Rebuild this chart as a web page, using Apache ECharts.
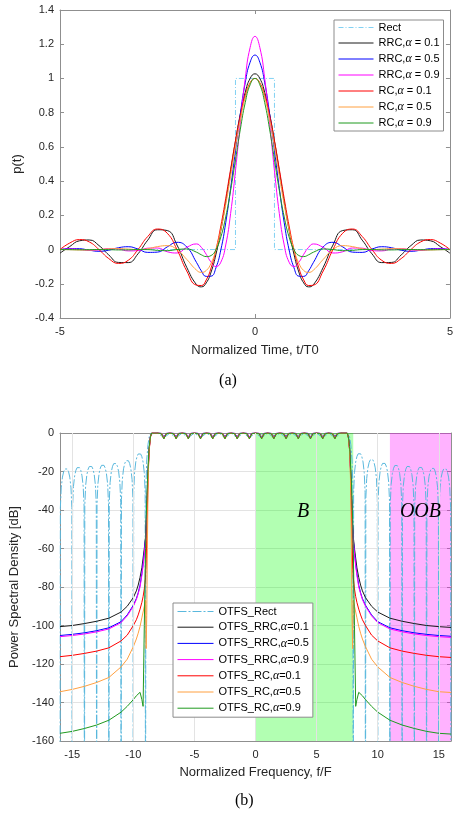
<!DOCTYPE html>
<html><head><meta charset="utf-8">
<script src="https://cdn.jsdelivr.net/npm/echarts@6/dist/echarts.min.js"></script>
<style>html,body{margin:0;padding:0;background:#fff}#c{width:456px;height:814px}</style>
</head><body><div id="c"></div>
<script>
// ---------- (a) pulse shapes ----------
const tAxis = [-5,-4.75,-4.5,-4.25,-4,-3.75,-3.5,-3.25,-3,-2.75,-2.5,-2.25,-2,-1.75,-1.5,-1.375,-1.25,-1.125,-1,-0.875,-0.75,-0.625,-0.5,-0.375,-0.25,-0.125,0,0.125,0.25,0.375,0.5,0.625,0.75,0.875,1,1.125,1.25,1.375,1.5,1.75,2,2.25,2.5,2.75,3,3.25,3.5,3.75,4,4.25,4.5,4.75,5];
const rectT = [-5,-0.5,-0.5,0.5,0.5,5];
const rectP = [0,0,1,1,0,0];
const rrc01 = [-0.0212,0.0176,0.0512,0.0559,0.0233,-0.0314,-0.0752,-0.0762,-0.0250,0.0550,0.1157,0.1110,0.0263,-0.1040,-0.2051,-0.2181,-0.1949,-0.1312,-0.0271,0.1125,0.2784,0.4574,0.6342,0.7930,0.9188,0.9995,1.027,0.9995,0.9188,0.7930,0.6342,0.4574,0.2784,0.1125,-0.0271,-0.1312,-0.1949,-0.2181,-0.2051,-0.1040,0.0263,0.1110,0.1157,0.0550,-0.0250,-0.0762,-0.0752,-0.0314,0.0233,0.0559,0.0512,0.0176,-0.0212];
const rrc05 = [-0.0006,0.0059,0.0050,-0.0038,-0.0101,-0.0038,0.0107,0.0165,0.0030,-0.0165,-0.0150,0.0155,0.0424,0.0155,-0.0750,-0.1245,-0.1568,-0.1554,-0.1061,-0.0015,0.1568,0.3572,0.5786,0.7940,0.9745,1.0945,1.1366,1.0945,0.9745,0.7940,0.5786,0.3572,0.1568,-0.0015,-0.1061,-0.1554,-0.1568,-0.1245,-0.0750,0.0155,0.0424,0.0155,-0.0150,-0.0165,0.0030,0.0165,0.0107,-0.0038,-0.0101,-0.0038,0.0050,0.0059,-0.0006];
const rrc09 = [-0.0002,0.0037,0.0004,-0.0051,-0.0021,0.0054,0.0028,-0.0078,-0.0066,0.0081,0.0090,-0.0129,-0.0201,0.0130,0.0328,0.0128,-0.0278,-0.0739,-0.0994,-0.0738,0.0268,0.2101,0.4608,0.7410,0.9989,1.1805,1.2459,1.1805,0.9989,0.7410,0.4608,0.2101,0.0268,-0.0738,-0.0994,-0.0739,-0.0278,0.0128,0.0328,0.0130,-0.0201,-0.0129,0.0090,0.0081,-0.0066,-0.0078,0.0028,0.0054,-0.0021,-0.0051,0.0004,0.0037,-0.0002];
const rc01 = [0,0.0381,0.0582,0.0446,0,-0.0525,-0.0810,-0.0627,0,0.0762,0.1200,0.0954,0,-0.1250,-0.2078,-0.2101,-0.1774,-0.1070,0,0.1382,0.2985,0.4688,0.6351,0.7832,0.8998,0.9744,1,0.9744,0.8998,0.7832,0.6351,0.4688,0.2985,0.1382,0,-0.1070,-0.1774,-0.2101,-0.2078,-0.1250,0,0.0954,0.1200,0.0762,0,-0.0627,-0.0810,-0.0525,0,0.0446,0.0582,0.0381,0];
const rc05 = [0,-0.0008,-0.0026,-0.0029,0,0.0043,0.0057,0.0028,0,0.0048,0.0172,0.0228,0,-0.0576,-0.1200,-0.1334,-0.1225,-0.0795,0,0.1159,0.2625,0.4290,0.6002,0.7588,0.8872,0.9709,1,0.9709,0.8872,0.7588,0.6002,0.4290,0.2625,0.1159,0,-0.0795,-0.1225,-0.1334,-0.1200,-0.0576,0,0.0228,0.0172,0.0048,0,0.0028,0.0057,0.0043,0,-0.0029,-0.0026,-0.0008,0];
const rc09 = [0,-0.0004,-0.0011,-0.0008,0,-0.0005,-0.0021,-0.0020,0,-0.0003,-0.0047,-0.0065,0,0.0034,-0.0153,-0.0306,-0.0410,-0.0349,0,0.0738,0.1907,0.3456,0.5241,0.7039,0.8585,0.9630,1,0.9630,0.8585,0.7039,0.5241,0.3456,0.1907,0.0738,0,-0.0349,-0.0410,-0.0306,-0.0153,0.0034,0,-0.0065,-0.0047,-0.0003,0,-0.0020,-0.0021,-0.0005,0,-0.0008,-0.0011,-0.0004,0];
const namesA = ['Rect','RRC,α = 0.1','RRC,α = 0.5','RRC,α = 0.9','RC,α = 0.1','RC,α = 0.5','RC,α = 0.9'];

// ---------- (b) power spectral density ----------
const inBandFreq = [-8,-7.7,-7.5,-7.3,-7,-6.7,-6.5,-6.3,-6,-5.7,-5.5,-5.3,-5,-4.7,-4.5,-4.3,-4,-3.7,-3.5,-3.3,-3,-2.7,-2.5,-2.3,-2,-1.7,-1.5,-1.3,-1,-0.7,-0.5,-0.3,0,0.3,0.5,0.7,1,1.3,1.5,1.7,2,2.3,2.5,2.7,3,3.3,3.5,3.7,4,4.3,4.5,4.7,5,5.3,5.5,5.7,6,6.3,6.5,6.7,7];
const inBandRRC = [0,-0.2,-2.2,-0.2,0,-0.2,-2.2,-0.2,0,-0.2,-2.2,-0.2,0,-0.2,-2.2,-0.2,0,-0.2,-2.2,-0.2,0,-0.2,-2.2,-0.2,0,-0.2,-2.2,-0.2,0,-0.2,-2.2,-0.2,0,-0.2,-2.2,-0.2,0,-0.2,-2.2,-0.2,0,-0.2,-2.2,-0.2,0,-0.2,-2.2,-0.2,0,-0.2,-2.2,-0.2,0,-0.2,-2.2,-0.2,0,-0.2,-2.2,-0.2,0];
const inBandRC = [0,-0.4,-3.0,-0.4,0,-0.4,-3.0,-0.4,0,-0.4,-3.0,-0.4,0,-0.4,-3.0,-0.4,0,-0.4,-3.0,-0.4,0,-0.4,-3.0,-0.4,0,-0.4,-3.0,-0.4,0,-0.4,-3.0,-0.4,0,-0.4,-3.0,-0.4,0,-0.4,-3.0,-0.4,0,-0.4,-3.0,-0.4,0,-0.4,-3.0,-0.4,0,-0.4,-3.0,-0.4,0,-0.4,-3.0,-0.4,0,-0.4,-3.0,-0.4,0];
const rectFreq = [
-16,-15.97,-15.9,-15.8,-15.7,-15.6,-15.5,-15.4,-15.3,-15.2,-15.1,-15.03,
-15,-14.97,-14.9,-14.8,-14.7,-14.6,-14.5,-14.4,-14.3,-14.2,-14.1,-14.03,
-14,-13.97,-13.9,-13.8,-13.7,-13.6,-13.5,-13.4,-13.3,-13.2,-13.1,-13.03,
-13,-12.97,-12.9,-12.8,-12.7,-12.6,-12.5,-12.4,-12.3,-12.2,-12.1,-12.03,
-12,-11.97,-11.9,-11.8,-11.7,-11.6,-11.5,-11.4,-11.3,-11.2,-11.1,-11.03,
-11,-10.97,-10.9,-10.8,-10.7,-10.6,-10.5,-10.4,-10.3,-10.2,-10.1,-10.03,
-10,-9.97,-9.9,-9.8,-9.7,-9.6,-9.5,-9.4,-9.3,-9.2,-9.1,-9.03,
-9,-8.97,-8.9,-8.8,-8.7,-8.6,-8.5,
-8,-7.5,-7,-6.5,-6,-5.5,-5,-4.5,-4,-3.5,-3,-2.5,-2,-1.5,-1,-0.5,0,0.5,1,1.5,2,2.5,3,3.5,4,4.5,5,5.5,6,6.5,7,
7.5,7.6,7.7,7.8,7.9,7.97,
8,8.03,8.1,8.2,8.3,8.4,8.5,8.6,8.7,8.8,8.9,8.97,
9,9.03,9.1,9.2,9.3,9.4,9.5,9.6,9.7,9.8,9.9,9.97,
10,10.03,10.1,10.2,10.3,10.4,10.5,10.6,10.7,10.8,10.9,10.97,
11,11.03,11.1,11.2,11.3,11.4,11.5,11.6,11.7,11.8,11.9,11.97,
12,12.03,12.1,12.2,12.3,12.4,12.5,12.6,12.7,12.8,12.9,12.97,
13,13.03,13.1,13.2,13.3,13.4,13.5,13.6,13.7,13.8,13.9,13.97,
14,14.03,14.1,14.2,14.3,14.4,14.5,14.6,14.7,14.8,14.9,14.97,
15,15.03,15.1,15.2,15.3,15.4,15.5,15.6,15.7,15.8,15.9,15.97,
16];
const rectPSD = [
-250,-38.8,-28.5,-22.9,-20.1,-18.7,-18.3,-18.7,-20.1,-22.9,-28.5,-38.8,
-250,-38.1,-27.8,-22.2,-19.4,-18.0,-17.6,-18.0,-19.4,-22.2,-27.8,-38.1,
-250,-37.5,-27.2,-21.6,-18.8,-17.4,-17.0,-17.4,-18.8,-21.6,-27.2,-37.5,
-250,-36.9,-26.6,-21.0,-18.2,-16.8,-16.4,-16.8,-18.2,-21.0,-26.6,-36.9,
-250,-36.0,-25.7,-20.1,-17.3,-15.9,-15.5,-15.9,-17.3,-20.1,-25.7,-36.0,
-250,-34.5,-24.2,-18.6,-15.8,-14.4,-14.0,-14.4,-15.8,-18.6,-24.2,-34.5,
-250,-31.0,-20.7,-15.1,-12.3,-10.9,-10.5,-10.9,-12.3,-15.1,-20.7,-31.0,
-250,-28,-14,-6,-2,-0.5,0,
0,-2.5,0,-2.5,0,-2.5,0,-2.5,0,-2.5,0,-2.5,0,-2.5,0,-2.5,0,-2.5,0,-2.5,0,-2.5,0,-2.5,0,-2.5,0,-2.5,0,-2.5,0,
0,-0.5,-2,-6,-14,-28,
-250,-30.9,-20.6,-15.0,-12.2,-10.8,-10.4,-10.8,-12.2,-15.0,-20.6,-30.9,
-250,-34.0,-23.7,-18.1,-15.3,-13.9,-13.5,-13.9,-15.3,-18.1,-23.7,-34.0,
-250,-35.9,-25.6,-20.0,-17.2,-15.8,-15.4,-15.8,-17.2,-20.0,-25.6,-35.9,
-250,-37.0,-26.7,-21.1,-18.3,-16.9,-16.5,-16.9,-18.3,-21.1,-26.7,-37.0,
-250,-37.5,-27.2,-21.6,-18.8,-17.4,-17.0,-17.4,-18.8,-21.6,-27.2,-37.5,
-250,-38.0,-27.7,-22.1,-19.3,-17.9,-17.5,-17.9,-19.3,-22.1,-27.7,-38.0,
-250,-38.5,-28.2,-22.6,-19.8,-18.4,-18.0,-18.4,-19.8,-22.6,-28.2,-38.5,
-250,-38.8,-28.5,-22.9,-20.1,-18.7,-18.3,-18.7,-20.1,-22.9,-28.5,-38.8,
-250];
const leftFreq = [-16,-15,-14,-13,-12,-11,-10.5,-10,-9.75,-9.6,-9.45,-9.3,-9.2,-9.1,-9,-8.95,-8.9,-8.85,-8.8,-8.75,-8.7,-8.6,-8.5];
const rightFreq = [7.5,7.6,7.7,7.75,7.8,7.85,7.9,7.95,8,8.1,8.2,8.3,8.45,8.6,8.75,9,9.5,10,11,12,13,14,15,16];
const leftRRC01 = [-100.6,-100,-99,-97.8,-96.2,-93,-90,-85.5,-82,-79,-75,-70,-65,-60,-54,-48,-40,-31,-22,-14,-8,-2,0];
const rightRRC01 = [0,-2,-8,-14,-22,-31,-40,-48,-54,-60,-65,-70,-75,-79,-82,-85.5,-90,-93,-96.2,-97.8,-99,-100,-100.6,-101];
const leftRRC05 = [-105.2,-104.6,-103.8,-102.7,-101.2,-98,-94.5,-89.5,-86,-83,-79,-73,-68,-62,-55,-49,-41,-31,-22,-14.5,-8,-2,0];
const rightRRC05 = [0,-2,-8,-14.5,-22,-31,-41,-49,-55,-62,-68,-73,-79,-83,-86,-89.5,-94.5,-98,-101.2,-102.7,-103.8,-104.6,-105.2,-105.6];
const leftRRC09 = [-105.8,-105.2,-104.4,-103.3,-101.8,-98.5,-95,-90,-86.5,-83.5,-80,-74,-69,-63,-56,-50,-42,-32,-23,-15,-8.5,-2,0];
const rightRRC09 = [0,-2,-8.5,-15,-23,-32,-42,-50,-56,-63,-69,-74,-80,-83.5,-86.5,-90,-95,-98.5,-101.8,-103.3,-104.4,-105.2,-105.8,-106.2];
const leftRC01 = [-116.2,-115.5,-114.5,-113.3,-111.6,-108,-105,-100,-97,-94.5,-91.5,-88,-85,-81,-75,-68,-55,-40,-27,-16,-9,-2.2,0];
const rightRC01 = [0,-2.2,-9,-16,-27,-40,-55,-68,-75,-81,-85,-88,-91.5,-94.5,-97,-100,-105,-108,-111.6,-113.3,-114.5,-115.5,-116.2,-116.6];
const leftRC05 = [-134.4,-133.2,-131.6,-129.6,-127,-121.5,-117.5,-111,-107,-104,-100.5,-96,-93,-90,-87,-112,-95,-60,-32,-17,-9,-2.2,0];
const rightRC05 = [0,-2.2,-9,-17,-32,-60,-95,-112,-87,-90,-93,-96,-100.5,-104,-107,-111,-117.5,-121.5,-127,-129.6,-131.6,-133.2,-134.4,-134.8];
const leftRC09 = [-156,-155,-153.5,-151.7,-149.2,-145,-142,-138.5,-136.5,-135.5,-134.7,-138.5,-142,-100,-60,-45,-35,-26,-19,-12,-7,-2,0];
const rightRC09 = [0,-2,-7,-12,-19,-26,-35,-45,-60,-100,-142,-138.5,-134.7,-135.5,-136.5,-138.5,-142,-145,-149.2,-151.7,-153.5,-155,-156,-156.4];
const namesB = ['OTFS_Rect','OTFS_RRC,α=0.1','OTFS_RRC,α=0.5','OTFS_RRC,α=0.9','OTFS_RC,α=0.1','OTFS_RC,α=0.5','OTFS_RC,α=0.9'];
const bandB = [0, 8];
const bandOOB = [11, 16];
const xTicksB = [-15,-10,-5,0,5,10,15];
const labelB = {text:'B', f:3.9, db:-41};
const labelOOB = {text:'OOB', f:13.5, db:-41};

// ---------- styling ----------
const colors = ['#4DBEEE','#1a1a1a','#0000ff','#ff00ff','#ff0000','#ffa040','#1f9a1f'];
const FONT = 'Liberation Sans, Arial, sans-serif';
const AX = '#8f8f8f';
const TXT = '#262626';
const zip = (xs, ys) => xs.map((x,i)=>[x, ys[i]]);

function axisBase(extra){
  return Object.assign({
    type:'value',
    axisLine:{show:true, onZero:false, lineStyle:{color:AX, width:1}},
    axisTick:{show:true, inside:true, length:4, lineStyle:{color:AX}},
    axisLabel:{color:TXT, fontSize:11, fontFamily:FONT},
    splitLine:{show:false},
    nameTextStyle:{color:TXT, fontSize:13, fontFamily:FONT}
  }, extra);
}

const legendText = {
  color:'#000', fontSize:11, fontFamily:FONT,
  rich:{i:{fontStyle:'italic', fontFamily:'Liberation Serif, serif', fontSize:12, color:'#000'}}
};
const legendFmt = n => n.replace('α','{i|α}');

const seriesA = [
  {name:namesA[0], data:zip(rectT,rectP), smooth:false, lineStyle:{color:colors[0], width:1, type:[5,2,1,2], opacity:0.7}},
  {name:namesA[1], data:zip(tAxis,rrc01)},
  {name:namesA[2], data:zip(tAxis,rrc05)},
  {name:namesA[3], data:zip(tAxis,rrc09)},
  {name:namesA[4], data:zip(tAxis,rc01)},
  {name:namesA[5], data:zip(tAxis,rc05)},
  {name:namesA[6], data:zip(tAxis,rc09)}
].map((s,i)=>Object.assign({type:'line', xAxisIndex:0, yAxisIndex:0, symbol:'none', smooth:true,
  color:colors[i], lineStyle:{color:colors[i], width:1}, animation:false, z:2}, s));

const psdSets = [
  [leftRRC01, inBandRRC, rightRRC01],
  [leftRRC05, inBandRRC, rightRRC05],
  [leftRRC09, inBandRRC, rightRRC09],
  [leftRC01, inBandRC, rightRC01],
  [leftRC05, inBandRC, rightRC05],
  [leftRC09, inBandRC, rightRC09]
];
const psdFreq = leftFreq.concat(inBandFreq, rightFreq);
const seriesB = [
  {name:namesB[0], data:zip(rectFreq,rectPSD), lineStyle:{color:'#5ab8dd', width:1, type:[9,2,2,2]}}
].concat(psdSets.map((d,i)=>({name:namesB[i+1], data:zip(psdFreq, d[0].concat(d[1], d[2]))})))
 .map((s,i)=>Object.assign({type:'line', xAxisIndex:2, yAxisIndex:2, symbol:'none', smooth:false,
  color:colors[i], lineStyle:{color:colors[i], width:1}, animation:false, z:2, clip:true}, s));

const gridLinesSeries = {
  type:'line', xAxisIndex:2, yAxisIndex:2, data:[], silent:true, z:1, animation:false,
  markLine:{silent:true, symbol:['none','none'], label:{show:false}, animation:false,
    lineStyle:{color:'#e3e3e3', type:'solid', width:1},
    data:xTicksB.map(v=>({xAxis:v}))}
};
const textStyleBig = {show:true, position:'inside', fontFamily:'Liberation Serif, Times New Roman, serif',
  fontStyle:'italic', fontSize:20, color:'#000'};
const bandSeries = {
  type:'line', xAxisIndex:2, yAxisIndex:2, data:[], silent:true, z:5, animation:false,
  markArea:{silent:true, animation:false, data:[
    [{xAxis:bandB[0], itemStyle:{color:'rgba(0,255,0,0.3)'}}, {xAxis:bandB[1]}],
    [{xAxis:bandOOB[0], itemStyle:{color:'rgba(255,0,255,0.3)'}}, {xAxis:bandOOB[1]}]
  ]},
  markPoint:{silent:true, animation:false, symbol:'circle', symbolSize:1, itemStyle:{color:'rgba(0,0,0,0)'},
    data:[
      {coord:[labelB.f, labelB.db], label:Object.assign({formatter:labelB.text}, textStyleBig)},
      {coord:[labelOOB.f, labelOOB.db], label:Object.assign({formatter:labelOOB.text}, textStyleBig)}
    ]}
};

const legendBase = {orient:'vertical', itemHeight:10, itemGap:4, backgroundColor:'#fff', borderColor:'#8c8c8c',
  borderWidth:1, borderRadius:0, textStyle:legendText, formatter:legendFmt, selectedMode:false, z:20,
  itemStyle:{opacity:0}, lineStyle:{width:1}};

const chart = echarts.init(document.getElementById('c'), null, {renderer:'canvas'});
chart.setOption({
  backgroundColor:'#fff',
  animation:false,
  grid:[
    {left:60, top:10, width:391, height:308, show:false},
    {left:60, top:433, width:391, height:308, show:false}
  ],
  xAxis:[
    axisBase({gridIndex:0, min:-5, max:5, interval:5, name:'Normalized Time, t/T0', nameLocation:'middle', nameGap:26,
      axisLabel:{color:TXT, fontSize:11, fontFamily:FONT, margin:8}}),
    axisBase({gridIndex:0, position:'top', min:-5, max:5, interval:5, axisLabel:{show:false}}),
    axisBase({gridIndex:1, min:-16, max:16, name:'Normalized Frequency, f/F', nameLocation:'middle', nameGap:25,
      axisLabel:{color:TXT, fontSize:11, fontFamily:FONT, margin:8, customValues:xTicksB},
      axisTick:{show:true, inside:true, length:4, lineStyle:{color:AX}, customValues:xTicksB}}),
    axisBase({gridIndex:1, position:'top', min:-16, max:16, axisLabel:{show:false},
      axisTick:{show:true, inside:true, length:4, lineStyle:{color:AX}, customValues:xTicksB}})
  ],
  yAxis:[
    axisBase({gridIndex:0, min:-0.4, max:1.4, interval:0.2, name:'p(t)', nameLocation:'middle', nameGap:21,
      axisLabel:{color:TXT, fontSize:11, fontFamily:FONT, margin:6, formatter:v=>String(+v.toFixed(1))}}),
    axisBase({gridIndex:0, position:'right', min:-0.4, max:1.4, interval:0.2, axisLabel:{show:false}}),
    axisBase({gridIndex:1, min:-160, max:0, interval:20, name:'Power Spectral Density [dB]', nameLocation:'middle', nameGap:27,
      axisLabel:{color:TXT, fontSize:11, fontFamily:FONT, margin:6},
      splitLine:{show:true, lineStyle:{color:'#e3e3e3', width:1}}}),
    axisBase({gridIndex:1, position:'right', min:-160, max:0, interval:20, axisLabel:{show:false}})
  ],
  legend:[
    Object.assign({}, legendBase, {data:namesA, left:334, top:20, itemWidth:35, padding:[2,4,2,4]}),
    Object.assign({}, legendBase, {data:namesB, left:173, top:603, itemWidth:36, itemGap:4.2, padding:[3,4,3,4]})
  ],
  graphic:[
    {type:'text', left:'center', top:373, style:{text:'(a)', font:'16px Liberation Serif, serif', fill:'#000'}},
    {type:'text', left:235, top:793, style:{text:'(b)', font:'16px Liberation Serif, serif', fill:'#000'}}
  ],
  series: seriesA.concat(seriesB, [gridLinesSeries, bandSeries])
});
</script></body></html>
